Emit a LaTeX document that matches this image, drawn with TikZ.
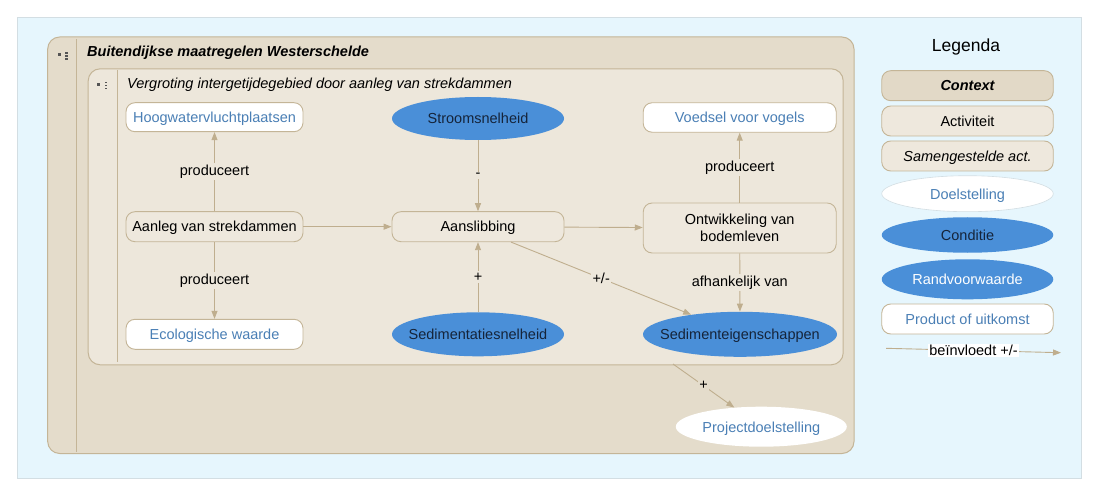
\documentclass[tikz,border=0pt]{standalone}
\usepackage{fontspec}
\setmainfont{Liberation Sans}
\usetikzlibrary{shapes.geometric,arrows.meta}
\definecolor{bgblue}{HTML}{E6F6FD}
\definecolor{bgborder}{HTML}{D3DEE3}
\definecolor{ctxfill}{HTML}{E4DCCB}
\definecolor{ctxleg}{HTML}{E2D9C7}
\definecolor{tanline}{HTML}{C4B597}
\definecolor{innerfill}{HTML}{EDE7DB}
\definecolor{actfill}{HTML}{EEE8DD}
\definecolor{condblue}{HTML}{4A8FD8}
\definecolor{darktext}{HTML}{15243A}
\definecolor{goaltext}{HTML}{4A7FB5}
\definecolor{edgecol}{HTML}{BFAE8E}
\definecolor{icongray}{HTML}{555555}
\newcommand{\zw}[1]{\raisebox{-5.5pt}[0pt][0pt]{\makebox[0pt][c]{#1}}}
\tikzset{
  base/.style={font=\fontsize{14.5}{17}\selectfont, inner sep=2pt},
  act/.style={base, draw=tanline, fill=actfill, rounded corners=9pt, line width=0.9pt, text=black, align=center},
  low/.style={text depth=0pt},
  prod/.style={act, fill=white, text=goaltext},
  cond/.style={base, ellipse, fill=condblue, text=darktext, inner sep=0pt},
  goal/.style={base, ellipse, fill=white, text=goaltext, inner sep=0pt},
  edge/.style={draw=edgecol, line width=0.9pt, -{Triangle[length=8pt,width=6pt]}},
  lbl/.style={base, fill=innerfill, inner sep=1.5pt, text=black},
  icondot/.style={fill=icongray, draw=none},
}
\begin{document}
\begin{tikzpicture}[x=1pt,y=-1pt]
\useasboundingbox (0,0) rectangle (1100,497);
\fill[white] (0,0) rectangle (1100,497);
% background panel
\draw[fill=bgblue, draw=bgborder, line width=0.8pt] (17.5,17.5) rectangle (1081,478);
% outer context box
\draw[fill=ctxfill, draw=tanline, line width=1pt, rounded corners=12pt] (47.7,37) rectangle (854,453.5);
\draw[tanline, line width=1pt] (76.5,39) -- (76.5,452);
\fill[icondot] (58,53.5) rectangle (60.5,56.5);
\foreach \yy in {52.5,55.3,58.1} \fill[icondot] (65,\yy) rectangle (67.5,\yy+1.5);
\node[base, anchor=west, font=\fontsize{14.5}{17}\selectfont\bfseries\itshape] (ctxtitle) at (85,53) {Buitendijkse maatregelen Westerschelde};
% inner composite box
\node[draw=tanline, fill=innerfill, line width=1pt, rounded corners=12pt, anchor=north west, minimum width=755pt, minimum height=296pt, inner sep=0pt] (inner) at (87.7,68.3) {};
\draw[tanline, line width=1pt] (117.3,70) -- (117.3,362);
\fill[icondot] (97,83) rectangle (99.5,86);
\foreach \yy in {82,84.8,87.6} \fill[icondot] (104.5,\yy) rectangle (107,\yy+1.5);
\node[base, anchor=west, font=\fontsize{14.5}{17}\selectfont\itshape] (comptitle) at (125,84.5) {Vergroting intergetijdegebied door aanleg van strekdammen};
% nodes
\node[prod, low, minimum width=177pt, minimum height=29pt] (hoog) at (214.5,117.2) {Hoogwatervluchtplaatsen};
\node[cond, minimum width=172pt, minimum height=43pt] (stroom) at (478,118.5) {\zw{Stroomsnelheid}};
\node[prod, low, minimum width=193pt, minimum height=29.5pt] (voedsel) at (739.7,117.5) {Voedsel voor vogels};
\node[act, low, minimum width=177pt, minimum height=30pt] (aanleg) at (214.5,226.7) {Aanleg van strekdammen};
\node[act, low, minimum width=172pt, minimum height=30pt] (aansl) at (478,226.7) {Aanslibbing};
\node[act, minimum width=193pt, minimum height=50pt] (ontw) at (739.7,228) {Ontwikkeling van\\bodemleven};
\node[prod, low, minimum width=177pt, minimum height=30pt] (eco) at (214.5,334.3) {Ecologische waarde};
\node[cond, minimum width=172pt, minimum height=44pt] (sedsn) at (478,334.3) {\zw{Sedimentatiesnelheid}};
\node[cond, minimum width=194pt, minimum height=45pt] (sedeig) at (740,334.3) {\zw{Sedimenteigenschappen}};
\node[goal, minimum width=171pt, minimum height=40pt] (proj) at (761.3,426.7) {\zw{Projectdoelstelling}};
\coordinate (innerout) at (673,364);
% edges
\draw[edge] (aanleg) -- node[lbl] {produceert} (hoog);
\draw[edge] (aanleg) -- node[lbl] {produceert} (eco);
\draw[edge] (aanleg) -- (aansl);
\draw[edge] (stroom) -- node[lbl] {-} (aansl);
\draw[edge] (sedsn) -- node[lbl] {+} (aansl);
\draw[edge] (aansl) -- (ontw);
\draw[edge] (ontw) -- node[lbl] {produceert} (voedsel);
\draw[edge] (ontw) -- node[lbl] {afhankelijk van} (sedeig);
\draw[edge] (aansl.-25) -- node[lbl, pos=0.5] {+/-} (sedeig);
\draw[edge] (innerout) -- node[lbl, fill=ctxfill] {+} (proj);
% legend
\node[base, font=\fontsize{17.5}{20}\selectfont] (legtitle) at (966,47) {Legenda};
\node[act, low, fill=ctxleg, minimum width=171.5pt, minimum height=30pt, font=\fontsize{14.5}{17}\selectfont\bfseries\itshape] (lctx) at (967.5,85.7) {Context};
\node[act, low, minimum width=171.5pt, minimum height=30pt] (lact) at (967.5,121) {Activiteit};
\node[act, low, minimum width=171.5pt, minimum height=30pt, font=\fontsize{14.5}{17}\selectfont\itshape] (lsam) at (967.5,156) {Samengestelde act.};
\node[goal, draw=bgborder, line width=0.6pt, minimum width=171.5pt, minimum height=36pt] (ldoel) at (967.5,193.7) {\zw{Doelstelling}};
\node[cond, minimum width=171.5pt, minimum height=35.5pt] (lcond) at (967.5,235) {\zw{Conditie}};
\node[cond, text=white, minimum width=171.5pt, minimum height=40pt] (lrand) at (967.5,279.3) {\zw{Randvoorwaarde}};
\node[prod, low, minimum width=171.5pt, minimum height=30pt] (lprod) at (967.5,319) {Product of uitkomst};
\coordinate (lstart) at (886,348.3);
\coordinate (lend) at (1061,352.7);
\draw[edge] (lstart) -- node[lbl, fill=white, inner sep=1pt] {beïnvloedt +/-} (lend);
\end{tikzpicture}
\end{document}
